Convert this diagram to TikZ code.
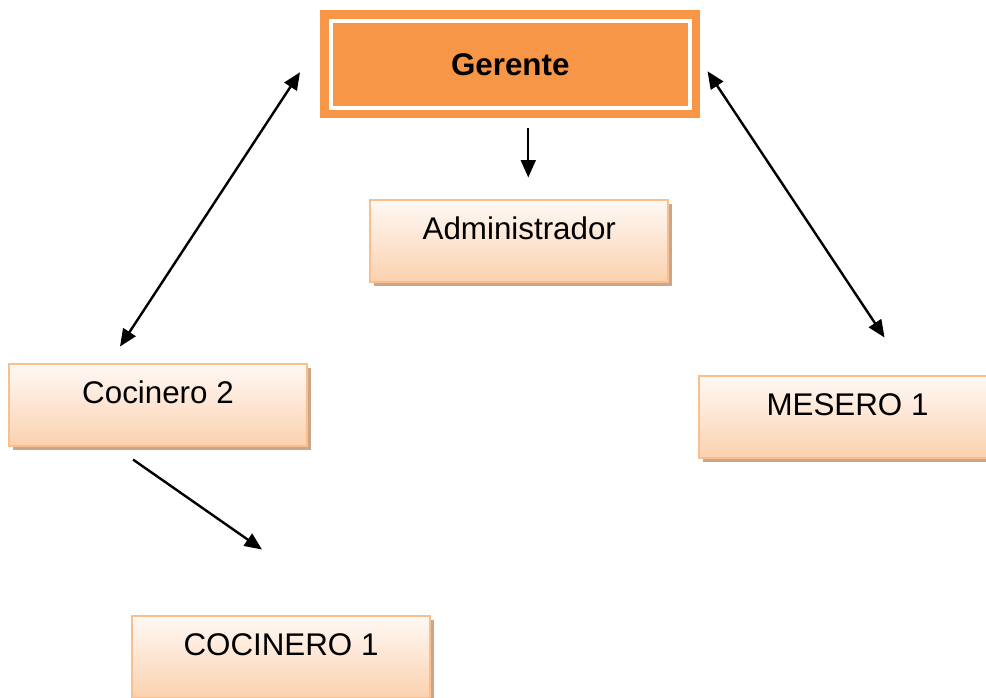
\documentclass[tikz,border=0pt]{standalone}
\usepackage{fontspec}
\setmainfont{Liberation Sans}
\usepackage{tikz}
\usetikzlibrary{positioning}
\usetikzlibrary{arrows.meta}
\usetikzlibrary{shadows}

\definecolor{gerorange}{HTML}{F79646}
\definecolor{boxline}{HTML}{FABF8F}
\definecolor{boxtop}{HTML}{FFF9F5}
\definecolor{boxbot}{HTML}{FBD1AF}
\definecolor{boxshadow}{HTML}{CDA587}

\tikzset{
  puesto/.style={rectangle, draw=boxline, line width=1.5pt,
    top color=boxtop, bottom color=boxbot,
    minimum width=223.5pt, minimum height=61.5pt, inner ysep=0pt,
    text height=30pt, text depth=31.5pt,
    font=\fontsize{23.5pt}{27pt}\selectfont,
    drop shadow={shadow xshift=3pt, shadow yshift=-3pt, fill=boxshadow, opacity=1}},
  jefe/.style={rectangle, fill=gerorange, minimum width=285pt, minimum height=81pt,
    font=\fontsize{23.5pt}{27pt}\selectfont\bfseries,
    path picture={\draw[white, line width=3pt]
      ([shift={(8pt,-8pt)}]path picture bounding box.north west) rectangle
      ([shift={(-8pt,8pt)}]path picture bounding box.south east);}},
  flecha/.style={line width=1.8pt, -{Triangle[length=13pt,width=11pt]}},
  dobleflecha/.style={line width=1.8pt, {Triangle[length=13pt,width=11pt]}-{Triangle[length=13pt,width=11pt]}}
}

\begin{document}
\begin{tikzpicture}
    \useasboundingbox (0,0) rectangle (739.5pt,-523.5pt);

    \node[jefe, anchor=north west] (ger) at (240pt,-7.5pt) {Gerente};
    \node[puesto, below=60pt of ger, xshift=6.75pt] (adm) {Administrador};
    \node[puesto, below left=183pt and 9pt of ger] (coc2) {Cocinero 2};
    \node[puesto, below right=192pt and -2.25pt of ger] (mes) {MESERO 1};
    \node[puesto, below=126pt of coc2, xshift=92.25pt] (coc1) {COCINERO 1};

    % Edges
    \draw[flecha] ([xshift=13.5pt,yshift=-6.75pt]ger.south) -- ([xshift=6.75pt,yshift=15.75pt]adm.north);
    \draw[dobleflecha] ([xshift=-15pt,yshift=-6pt]ger.west) -- ([xshift=84pt,yshift=12pt]coc2.north west);
    \draw[dobleflecha] ([xshift=5.25pt,yshift=-5.25pt]ger.east) -- ([xshift=140.25pt,yshift=27.75pt]mes.north west);
    \draw[flecha] ([xshift=-18.75pt,yshift=-9.75pt]coc2.south) -- ([xshift=-14.25pt,yshift=48.75pt]coc1.north);
\end{tikzpicture}
\end{document}
